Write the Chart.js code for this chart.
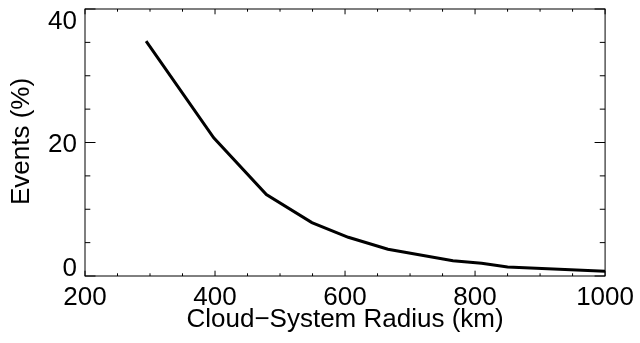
<!DOCTYPE html>
<html lang="en">
<head>
    <meta charset="UTF-8">
    <title>Events vs Cloud-System Radius</title>
    <script src="https://cdn.jsdelivr.net/npm/chart.js"></script>
    <style>
        body { margin: 0; background: white; }
        #chart { display: block; }
    </style>
</head>
<body>
    <canvas id="chart" width="640" height="343"></canvas>
    <script>
        // values
        const radiusKm = [294, 398, 479, 549, 605, 666, 766, 810, 850, 1000];
        const eventsPct = [35.2, 20.7, 12.2, 8.0, 5.8, 4.0, 2.3, 1.9, 1.35, 0.7];
        const xTickLabels = [200, 400, 600, 800, 1000];
        const yTickLabels = [0, 20, 40];
        const xTitle = 'Cloud\u2212System Radius (km)';
        const yTitle = 'Events (%)';

        const FONT = '26px "Liberation Sans", Arial, sans-serif';

        // box with inward ticks on all sides, y labels and axis titles (IDL look)
        const frame = {
            id: 'frame',
            afterDraw(chart) {
                const ctx = chart.ctx;
                const a = chart.chartArea;
                const xs = chart.scales.x, ys = chart.scales.y;
                ctx.save();
                ctx.strokeStyle = '#000';
                ctx.lineWidth = 1;
                ctx.strokeRect(a.left, a.top, a.right - a.left, a.bottom - a.top);

                ctx.beginPath();
                for (let v = xs.min; v <= xs.max; v += 50) {
                    const px = xs.getPixelForValue(v);
                    const len = xTickLabels.includes(v) ? 5.3 : 2.7;
                    ctx.moveTo(px, a.bottom); ctx.lineTo(px, a.bottom - len);
                    ctx.moveTo(px, a.top); ctx.lineTo(px, a.top + len);
                }
                for (let v = ys.min; v <= ys.max; v += 5) {
                    const py = ys.getPixelForValue(v);
                    const len = yTickLabels.includes(v) ? 10.5 : 5.3;
                    ctx.moveTo(a.left, py); ctx.lineTo(a.left + len, py);
                    ctx.moveTo(a.right, py); ctx.lineTo(a.right - len, py);
                }
                ctx.stroke();

                ctx.fillStyle = '#000';
                ctx.font = FONT;
                const capH = 26 * 0.716;
                ctx.textAlign = 'right';
                ctx.textBaseline = 'alphabetic';
                yTickLabels.forEach(function (v) {
                    let py = ys.getPixelForValue(v) + capH / 2;
                    if (v === ys.max) py = a.top + capH + 1;
                    if (v === ys.min) py = a.bottom;
                    ctx.fillText(String(v), a.left - 8, py);
                });

                ctx.textAlign = 'center';
                ctx.fillText(xTitle, (a.left + a.right) / 2, 327);

                ctx.translate(29, (a.top + a.bottom) / 2 - 1);
                ctx.rotate(-Math.PI / 2);
                ctx.fillText(yTitle, 0, 0);
                ctx.restore();
            }
        };

        new Chart(document.getElementById('chart'), {
            type: 'line',
            data: {
                datasets: [{
                    data: radiusKm.map((r, i) => ({ x: r, y: eventsPct[i] })),
                    borderColor: '#000',
                    borderWidth: 3,
                    pointRadius: 0,
                    tension: 0,
                    fill: false
                }]
            },
            options: {
                responsive: false,
                animation: false,
                layout: { padding: { top: 9, right: 32, left: 0, bottom: 0 } },
                plugins: { legend: { display: false }, tooltip: { enabled: false } },
                scales: {
                    x: {
                        type: 'linear',
                        min: 200,
                        max: 1000,
                        grid: { display: false, drawTicks: false },
                        border: { display: false },
                        afterFit: function (s) { s.height = 67; },
                        afterBuildTicks: function (s) { s.ticks = xTickLabels.map(v => ({ value: v })); },
                        ticks: {
                            color: '#000',
                            font: { family: '"Liberation Sans", Arial, sans-serif', size: 26 },
                            padding: 6,
                            maxRotation: 0,
                            autoSkip: false,
                            callback: v => String(v)
                        }
                    },
                    y: {
                        min: 0,
                        max: 40,
                        grid: { display: false, drawTicks: false },
                        border: { display: false },
                        afterFit: function (s) { s.width = 85; },
                        ticks: { display: false }
                    }
                }
            },
            plugins: [frame]
        });
    </script>
</body>
</html>
